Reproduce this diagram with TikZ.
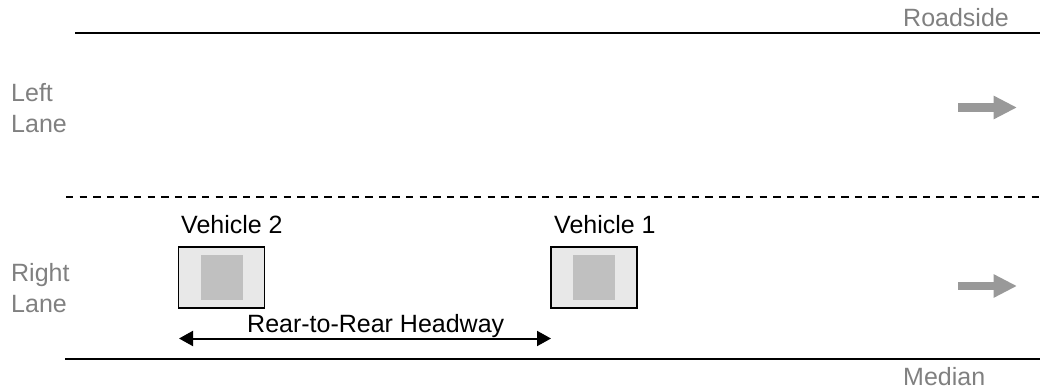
\documentclass[tikz,border=0pt]{standalone}
\usepackage{fontspec}
\setmainfont{Liberation Sans}
\usetikzlibrary{arrows.meta}
\definecolor{lbl}{HTML}{808080}
\definecolor{arr}{HTML}{999999}
\definecolor{outerf}{HTML}{E8E8E8}
\definecolor{innerf}{HTML}{C0C0C0}
\begin{document}
\begin{tikzpicture}[x=1pt,y=-1pt,
  txt/.style={font=\fontsize{25}{31}\selectfont, inner sep=0pt, anchor=base west},
  graytxt/.style={txt, text=lbl, align=left},
  veh/.style={draw=black, line width=1.5pt, fill=outerf, minimum width=86pt, minimum height=61pt, inner sep=0pt},
  cabin/.style={fill=innerf, minimum width=42pt, minimum height=45pt, inner sep=0pt},
  flow/.style={draw=arr, line width=8.4pt, -{Triangle[length=23.5pt,width=22pt]}},
  road/.style={line width=2.2pt}]
\useasboundingbox (0,0) rectangle (1040,390);
% road edges
\coordinate (t1) at (75,33); \coordinate (t2) at (1040,33);
\coordinate (d1) at (66,197); \coordinate (d2) at (1040,197);
\coordinate (b1) at (65,359); \coordinate (b2) at (1040,359);
\draw[road] (t1) -- (t2);
\draw[line width=2pt, dash pattern=on 7.3pt off 6.3pt] (d1) -- (d2);
\draw[road] (b1) -- (b2);
% labels
\node[graytxt] (roadside) at (903,27) {Roadside};
\node[graytxt] (median) at (903,385) {Median};
\node[graytxt] (left) at (11,133) {Left\\Lane};
\node[graytxt] (right) at (11,312) {Right\\Lane};
% flow arrows
\coordinate (fa1) at (958,107.5); \coordinate (fa2) at (1017,107.5);
\coordinate (fb1) at (958,286); \coordinate (fb2) at (1017,286);
\draw[flow] (fa1) -- (fa2);
\draw[flow] (fb1) -- (fb2);
% vehicles
\node[veh] (v2) at (221.5,277.5) {};
\node[cabin] at (v2.center) {};
\node[veh] (v1) at (594,277.5) {};
\node[cabin] at (v1.center) {};
\node[txt] (v2l) at (181,233) {Vehicle 2};
\node[txt] (v1l) at (554,233) {Vehicle 1};
% headway
\coordinate (h1) at (179,338.5); \coordinate (h2) at (551,338.5);
\draw[line width=2pt, {Triangle[length=14pt,width=15pt]}-{Triangle[length=14pt,width=15pt]}] (h1) -- (h2);
\node[txt] (hw) at (247,332) {Rear-to-Rear Headway};
\end{tikzpicture}
\end{document}
